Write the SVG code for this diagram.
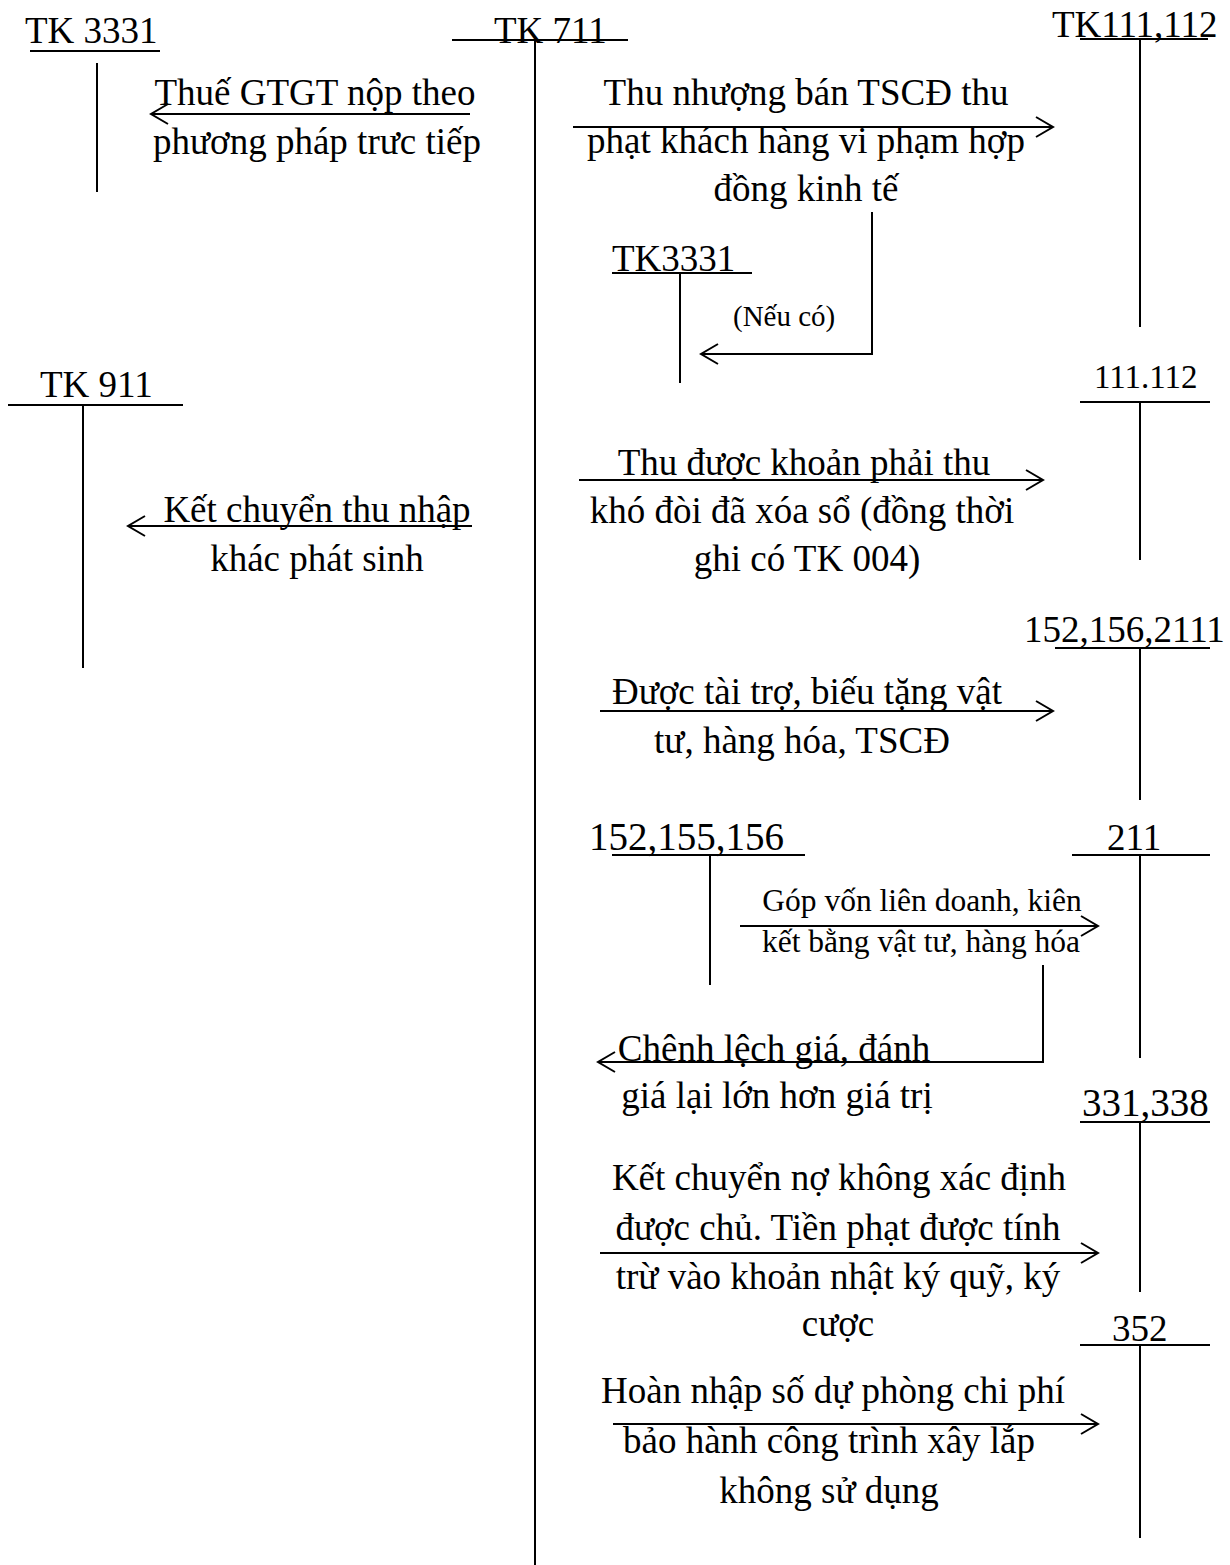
<svg xmlns="http://www.w3.org/2000/svg" width="1230" height="1565" viewBox="0 0 1230 1565">
<style>
.t{font-family:"Liberation Serif","Times New Roman",serif;font-size:37px;fill:#000}
.m{text-anchor:middle}
.s{font-size:31.5px}
.xs{font-size:29px}
.ln{stroke:#000;stroke-width:2;fill:none}
</style>
<defs>
<marker id="open" markerUnits="userSpaceOnUse" markerWidth="20" markerHeight="24" refX="18" refY="12" orient="auto">
<path d="M1,2 L18,12 L1,22" fill="none" stroke="#000" stroke-width="2"/>
</marker>
</defs>
<rect width="1230" height="1565" fill="#fff"/>

<g id="tk3331">
<text class="t" x="25" y="43">TK 3331</text>
<line class="ln" x1="30" y1="51" x2="160" y2="51"/>
<line class="ln" x1="97" y1="63" x2="97" y2="192"/>
</g>
<g id="tk711">
<text class="t" x="494" y="43">TK 711</text>
<line class="ln" x1="452" y1="40" x2="628" y2="40"/>
<line class="ln" x1="535" y1="40" x2="535" y2="1565"/>
</g>
<g id="tk111_112">
<text class="t" x="1052" y="37">TK111,112</text>
<line class="ln" x1="1080" y1="39" x2="1208" y2="39"/>
<line class="ln" x1="1140" y1="39" x2="1140" y2="327"/>
</g>
<g id="tk3331b">
<text class="t" x="612" y="271">TK3331</text>
<line class="ln" x1="612" y1="273" x2="752" y2="273"/>
<line class="ln" x1="680" y1="273" x2="680" y2="383"/>
</g>
<g id="tk911">
<text class="t" x="40" y="397">TK 911</text>
<line class="ln" x1="8" y1="405" x2="183" y2="405"/>
<line class="ln" x1="83" y1="405" x2="83" y2="668"/>
</g>
<g id="tk111_112b">
<text class="t" x="1094" y="388" style="font-size:33px">111.112</text>
<line class="ln" x1="1080" y1="402" x2="1210" y2="402"/>
<line class="ln" x1="1140" y1="402" x2="1140" y2="560"/>
</g>
<g id="tk152_156_2111">
<text class="t" x="1024" y="642">152,156,2111</text>
<line class="ln" x1="1055" y1="648" x2="1210" y2="648"/>
<line class="ln" x1="1140" y1="648" x2="1140" y2="800"/>
</g>
<g id="tk152_155_156">
<text class="t" x="589" y="850" style="font-size:39px">152,155,156</text>
<line class="ln" x1="612" y1="855" x2="805" y2="855"/>
<line class="ln" x1="710" y1="855" x2="710" y2="985"/>
</g>
<g id="tk211">
<text class="t" x="1107" y="850">211</text>
<line class="ln" x1="1072" y1="855" x2="1210" y2="855"/>
<line class="ln" x1="1140" y1="855" x2="1140" y2="1058"/>
</g>
<g id="tk331_338">
<text class="t" x="1082" y="1116" style="font-size:39px">331,338</text>
<line class="ln" x1="1080" y1="1122" x2="1210" y2="1122"/>
<line class="ln" x1="1140" y1="1122" x2="1140" y2="1292"/>
</g>
<g id="tk352">
<text class="t" x="1112" y="1341">352</text>
<line class="ln" x1="1080" y1="1345" x2="1210" y2="1345"/>
<line class="ln" x1="1140" y1="1345" x2="1140" y2="1538"/>
</g>

<g id="connectors">
<g id="c1">
<line class="ln" x1="470" y1="114" x2="151" y2="114" marker-end="url(#open)"/>
<text class="t m" x="315" y="105">Thuế GTGT nộp theo</text>
<text class="t m" x="317" y="154">phương pháp trưc tiếp</text>
</g>
<g id="c2">
<line class="ln" x1="573" y1="127" x2="1053" y2="127" marker-end="url(#open)"/>
<text class="t m" x="806" y="105">Thu nhượng bán TSCĐ thu</text>
<text class="t m" x="806" y="153">phạt khách hàng vi phạm hợp</text>
<text class="t m" x="806" y="201">đồng kinh tế</text>
</g>
<g id="c3">
<polyline class="ln" points="872,212 872,354 701,354" marker-end="url(#open)"/>
<text class="t xs" x="733" y="326">(Nếu có)</text>
</g>
<g id="c4">
<line class="ln" x1="579" y1="480" x2="1043" y2="480" marker-end="url(#open)"/>
<text class="t m" x="804" y="475">Thu được khoản phải thu</text>
<text class="t m" x="802" y="523">khó đòi đã xóa sổ (đồng thời</text>
<text class="t m" x="807" y="571">ghi có TK 004)</text>
</g>
<g id="c5">
<line class="ln" x1="472" y1="526" x2="128" y2="526" marker-end="url(#open)"/>
<text class="t m" x="317" y="522">Kết chuyển thu nhập</text>
<text class="t m" x="317" y="571">khác phát sinh</text>
</g>
<g id="c6">
<line class="ln" x1="600" y1="711" x2="1053" y2="711" marker-end="url(#open)"/>
<text class="t m" x="807" y="704">Được tài trợ, biếu tặng vật</text>
<text class="t m" x="802" y="753">tư, hàng hóa, TSCĐ</text>
</g>
<g id="c7">
<line class="ln" x1="740" y1="926" x2="1098" y2="926" marker-end="url(#open)"/>
<text class="t m s" x="922" y="911">Góp vốn liên doanh, kiên</text>
<text class="t m s" x="921" y="952">kết bằng vật tư, hàng hóa</text>
</g>
<g id="c8">
<polyline class="ln" points="1043,965 1043,1062 598,1062" marker-end="url(#open)"/>
<text class="t m" x="774" y="1061">Chênh lệch giá, đánh</text>
<text class="t m" x="777" y="1108">giá lại lớn hơn giá trị</text>
</g>
<g id="c9">
<line class="ln" x1="600" y1="1253" x2="1098" y2="1253" marker-end="url(#open)"/>
<text class="t m" x="839" y="1190">Kết chuyển nợ không xác định</text>
<text class="t m" x="838" y="1240">được chủ. Tiền phạt được tính</text>
<text class="t m" x="838" y="1289">trừ vào khoản nhật ký quỹ, ký</text>
<text class="t m" x="838" y="1336">cược</text>
</g>
<g id="c10">
<line class="ln" x1="613" y1="1424" x2="1098" y2="1424" marker-end="url(#open)"/>
<text class="t m" x="833" y="1403">Hoàn nhập số dự phòng chi phí</text>
<text class="t m" x="829" y="1453">bảo hành công trình xây lắp</text>
<text class="t m" x="829" y="1503">không sử dụng</text>
</g>
</g>
</svg>
